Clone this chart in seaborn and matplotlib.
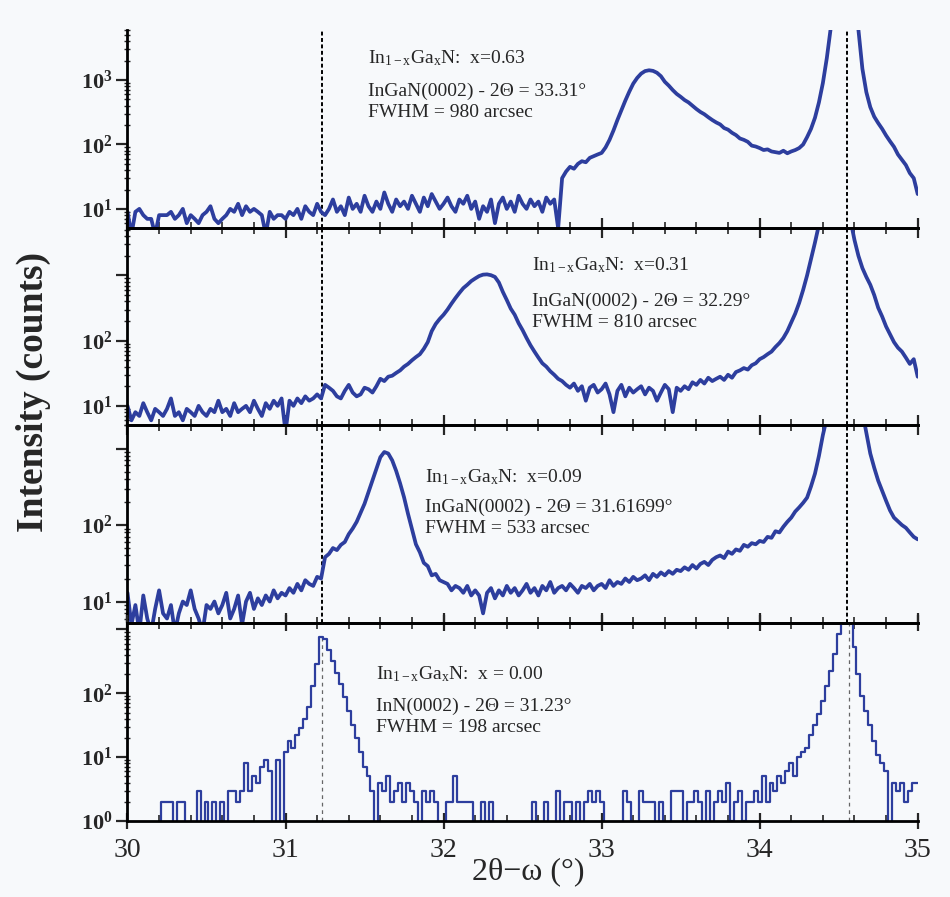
import numpy as np
import pandas as pd
import matplotlib
matplotlib.use("Agg")
import matplotlib.pyplot as plt
import seaborn as sns
from matplotlib.ticker import LogLocator, FuncFormatter, MultipleLocator, NullFormatter

# ---------------- data (2theta-omega scans, counts) ----------------
two_theta = np.linspace(30.0, 35.0, 201)   # 0.025 deg grid

counts_x063 = [
    9, 4, 9, 10, 8, 7, 7, 4, 8, 8,
    8, 9, 7, 8, 10, 6, 8, 7, 6, 8,
    9, 11, 7, 6, 7, 8, 10, 9, 12, 8,
    11, 9, 10, 9, 8, 4, 9, 7, 8, 8,
    7, 9, 8, 10, 7, 11, 9, 8, 12, 9,
    8, 10, 14, 9, 11, 8, 15, 10, 12, 9,
    16, 11, 9, 13, 10, 18, 12, 9, 14, 11,
    13, 10, 16, 12, 9, 15, 11, 17, 13, 10,
    12, 15, 11, 9, 14, 12, 16, 10, 13, 7,
    11, 9, 14, 6, 12, 15, 10, 13, 9, 16,
    12, 10, 14, 11, 13, 9, 15, 12, 14, 5,
    30, 38, 45, 42, 50, 55, 53, 62, 66, 70,
    74, 90, 118, 165, 240, 340, 480, 660, 880, 1080,
    1260, 1380, 1420, 1390, 1300, 1150, 940, 820, 700, 610,
    550, 490, 450, 400, 355, 320, 295, 265, 240, 220,
    205, 180, 170, 152, 140, 124, 118, 110, 96, 93,
    88, 82, 84, 78, 76, 74, 80, 73, 78, 82,
    88, 100, 130, 175, 260, 450, 900, 2200, 6500, 20000,
    60000, 150000, 200000, 120000, 30000, 6000, 1500, 650, 380, 270,
    215, 175, 138, 112, 92, 70, 58, 48, 36, 30,
    17,
]

counts_x031 = [
    10, 6, 8, 7, 11, 8, 6, 9, 8, 7,
    9, 13, 7, 8, 6, 9, 8, 7, 10, 8,
    7, 9, 8, 12, 8, 9, 7, 11, 8, 9,
    10, 8, 12, 9, 7, 11, 9, 12, 10, 13,
    4, 12, 10, 13, 11, 14, 12, 13, 15, 13,
    21, 19, 17, 14, 13, 17, 21, 16, 14, 15,
    19, 18, 16, 20, 26, 24, 28, 29, 32, 35,
    40, 44, 50, 56, 62, 75, 95, 140, 180, 215,
    250, 300, 370, 450, 540, 640, 720, 820, 900, 980,
    1030, 1040, 1010, 950, 780, 560, 420, 310, 250, 185,
    145, 110, 85, 68, 55, 45, 40, 34, 30, 26,
    24, 21, 19, 22, 17, 20, 12, 19, 21, 16,
    18, 22, 15, 8, 17, 21, 14, 19, 16, 18,
    20, 15, 19, 17, 12, 16, 21, 18, 8, 19,
    17, 20, 18, 23, 21, 25, 22, 27, 24, 26,
    28, 25, 30, 27, 33, 35, 38, 36, 42, 45,
    52, 56, 62, 68, 80, 92, 110, 140, 190, 260,
    380, 600, 1000, 1800, 3200, 6000, 12000, 30000, 70000, 150000,
    200000, 300000, 60000, 7000, 3500, 2000, 1300, 950, 720, 500,
    320, 235, 165, 125, 95, 78, 68, 55, 44, 52,
    28,
]

counts_x009 = [
    13, 5, 9, 4, 12, 6, 4, 8, 14, 7,
    6, 9, 4, 7, 10, 9, 14, 8, 6, 4,
    9, 8, 10, 7, 9, 13, 6, 8, 12, 5,
    10, 13, 8, 11, 9, 12, 10, 14, 11, 13,
    12, 15, 13, 17, 14, 19, 17, 16, 21, 20,
    38, 42, 50, 47, 55, 60, 76, 90, 110, 145,
    190, 270, 380, 550, 770, 900, 860, 700, 510, 350,
    230, 140, 88, 56, 44, 32, 29, 22, 23, 19,
    18, 17, 14, 16, 15, 13, 16, 12, 14, 12,
    7, 13, 15, 11, 14, 12, 16, 13, 15, 12,
    14, 17, 13, 15, 12, 16, 14, 18, 13, 15,
    16, 14, 17, 15, 13, 16, 15, 17, 14, 16,
    17, 15, 19, 16, 18, 17, 20, 18, 21, 19,
    20, 22, 19, 23, 21, 24, 22, 25, 23, 26,
    25, 28, 26, 30, 27, 31, 33, 30, 35, 38,
    40, 37, 45, 42, 48, 46, 55, 52, 58, 56,
    62, 60, 70, 68, 83, 80, 95, 110, 125, 150,
    170, 195, 228, 320, 470, 800, 1500, 2500, 6000, 20000,
    80000, 200000, 300000, 120000, 25000, 7000, 3000, 1600, 860, 560,
    380, 280, 207, 155, 125, 112, 100, 92, 80, 70,
    65,
]

counts_x000 = [
    0, 0, 0, 0, 0, 0, 0, 0, 0, 2,
    2, 2, 0, 2, 2, 0, 0, 0, 3, 0,
    2, 0, 2, 0, 2, 0, 3, 3, 2, 3,
    8, 3, 5, 4, 7, 9, 6, 0, 9, 0,
    12, 18, 14, 22, 29, 40, 60, 130, 290, 760,
    700, 480, 320, 210, 140, 88, 52, 32, 20, 12,
    7, 5, 3, 0, 4, 3, 5, 2, 3, 4,
    2, 4, 3, 2, 0, 3, 2, 3, 2, 0,
    0, 2, 2, 5, 2, 2, 2, 2, 0, 0,
    2, 0, 2, 0, 0, 0, 0, 0, 0, 0,
    0, 0, 0, 2, 0, 0, 2, 0, 0, 3,
    0, 2, 2, 0, 2, 0, 2, 3, 2, 3,
    2, 0, 0, 0, 0, 0, 3, 2, 0, 0,
    3, 2, 2, 2, 0, 2, 0, 0, 3, 3,
    3, 0, 2, 2, 3, 2, 0, 3, 0, 2,
    3, 2, 4, 1, 2, 3, 1, 2, 2, 3,
    2, 5, 2, 4, 3, 5, 4, 6, 8, 5,
    10, 12, 14, 22, 32, 48, 75, 130, 220, 420,
    850, 3000, 30000, 3000, 530, 200, 90, 52, 32, 18,
    11, 8, 6, 0, 4, 3, 4, 2, 3, 4,
    4,
]

compositions = ["x=0.63", "x=0.31", "x=0.09", "x = 0.00"]
reflections = ["InGaN(0002) - 2\u0398 = 33.31\u00b0",
               "InGaN(0002) - 2\u0398 = 32.29\u00b0",
               "InGaN(0002) - 2\u0398 = 31.61699\u00b0",
               "InN(0002) - 2\u0398 = 31.23\u00b0"]
fwhm_labels = ["FWHM = 980 arcsec", "FWHM = 810 arcsec",
               "FWHM = 533 arcsec", "FWHM = 198 arcsec"]
inn_peak = 31.23
gan_peak = 34.555

# ---------------- style ----------------
sns.set_theme(style="ticks")
plt.rcParams['font.family'] = ['Liberation Serif', 'DejaVu Serif']
plt.rcParams['mathtext.fontset'] = 'custom'
plt.rcParams['mathtext.rm'] = 'Liberation Serif'
plt.rcParams['mathtext.it'] = 'Liberation Serif:italic'
plt.rcParams['mathtext.bf'] = 'Liberation Serif:bold'

BLUE = '#2d3e9e'
BG = '#f7f9fb'

fig, axes = plt.subplots(4, 1, figsize=(9.5, 8.97), dpi=100, sharex=True)
fig.patch.set_facecolor(BG)
fig.subplots_adjust(left=0.1342, right=0.966, top=0.9666, bottom=0.0847, hspace=0)

series = [counts_x063, counts_x031, counts_x009, counts_x000]
ylims = [(5.1, 6000), (5.0, 5400), (5.2, 2000), (1.0, 1250)]
labeled_exp = [[1, 2, 3], [1, 2], [1, 2], [0, 1, 2]]
text_x = [31.52, 32.56, 31.88, 31.57]
text_y = [(0.859, 0.692, 0.581), (0.812, 0.629, 0.523),
          (0.741, 0.584, 0.477), (0.744, 0.578, 0.472)]


def make_fmt(labeled):
    def f(v, pos):
        if v <= 0:
            return ''
        lv = np.log10(v)
        e = int(round(lv))
        if abs(lv - e) < 1e-6 and e in labeled:
            return r'$\mathbf{10^{%d}}$' % e
        return ''
    return FuncFormatter(f)


for i, ax in enumerate(axes):
    ax.set_facecolor('none')
    df = pd.DataFrame({'two_theta': two_theta, 'counts': np.asarray(series[i], float)})
    # zero counts sit below the log axis floor
    df['shown'] = df['counts'].where(df['counts'] > 0, 0.3)
    if i < 3:
        sns.lineplot(data=df, x='two_theta', y='shown', ax=ax, color=BLUE, lw=2.7,
                     estimator=None, legend=False, solid_joinstyle='round')
    else:
        sns.lineplot(data=df, x='two_theta', y='shown', ax=ax, color=BLUE, lw=1.6,
                     drawstyle='steps-mid', estimator=None, legend=False)
    ax.set_yscale('log')
    ax.set_ylim(*ylims[i])
    ax.set_xlim(30, 35)
    ax.set_xlabel('')
    ax.set_ylabel('')

    # reference lines
    if i < 3:
        for xv in (inn_peak, gan_peak):
            ax.axvline(xv, color='black', lw=1.4, ls=(0, (2.0, 1.3)), zorder=1)
    else:
        top_inn = df.loc[(df.two_theta - inn_peak).abs().idxmin(), 'counts']
        ax.plot([inn_peak, inn_peak], [ylims[3][0], top_inn], color='#666666',
                lw=0.9, ls=(0, (3, 3)), zorder=1)
        ax.plot([gan_peak + 0.01, gan_peak + 0.01], [ylims[3][0], ylims[3][1]],
                color='#666666', lw=0.9, ls=(0, (3, 3)), zorder=1)

    # spines
    for s in ax.spines.values():
        s.set_linewidth(2.0)
        s.set_color('black')
    ax.spines['right'].set_visible(False)
    if i == 0:
        ax.spines['top'].set_visible(False)

    # y ticks
    ax.yaxis.set_major_locator(LogLocator(base=10, numticks=10))
    ax.yaxis.set_minor_locator(LogLocator(base=10, subs=np.arange(2, 10), numticks=20))
    ax.yaxis.set_major_formatter(make_fmt(labeled_exp[i]))
    ax.yaxis.set_minor_formatter(NullFormatter())
    ax.tick_params(axis='y', which='major', direction='out', length=8, width=1.6,
                   labelsize=16, pad=3, right=False)
    ax.tick_params(axis='y', which='minor', direction='inout', length=4, width=1.0,
                   right=False)

    # x ticks
    ax.xaxis.set_major_locator(MultipleLocator(1))
    ax.xaxis.set_minor_locator(MultipleLocator(0.2))
    ax.tick_params(axis='x', which='major', direction='in', length=7, width=1.6,
                   top=(i > 0), bottom=True, labelsize=20)
    ax.tick_params(axis='x', which='minor', direction='in', length=4, width=1.2,
                   top=(i > 0), bottom=True)
    if i == 3:
        ax.tick_params(axis='x', which='major', direction='inout', length=12, pad=6)

    # annotations
    ty = text_y[i]
    ax.text(text_x[i], ty[0],
            r'In$_{\mathregular{1-x}}$Ga$_{\mathregular{x}}$N:  ' + compositions[i],
            transform=ax.get_xaxis_transform(), fontsize=14, va='center', ha='left')
    ax.text(text_x[i], ty[1], reflections[i], transform=ax.get_xaxis_transform(),
            fontsize=14, va='center', ha='left')
    ax.text(text_x[i], ty[2], fwhm_labels[i], transform=ax.get_xaxis_transform(),
            fontsize=14, va='center', ha='left')

fig.text(33 / 950, 1 - 392 / 897, 'Intensity (counts)', rotation=90, fontsize=27,
         fontweight='bold', ha='center', va='center')
fig.text(528 / 950, 1 - 872 / 897, '2\u03b8\u2212\u03c9 (\u00b0)', fontsize=23,
         ha='center', va='center')

fig.savefig('out.png', dpi=100, facecolor=fig.get_facecolor())
